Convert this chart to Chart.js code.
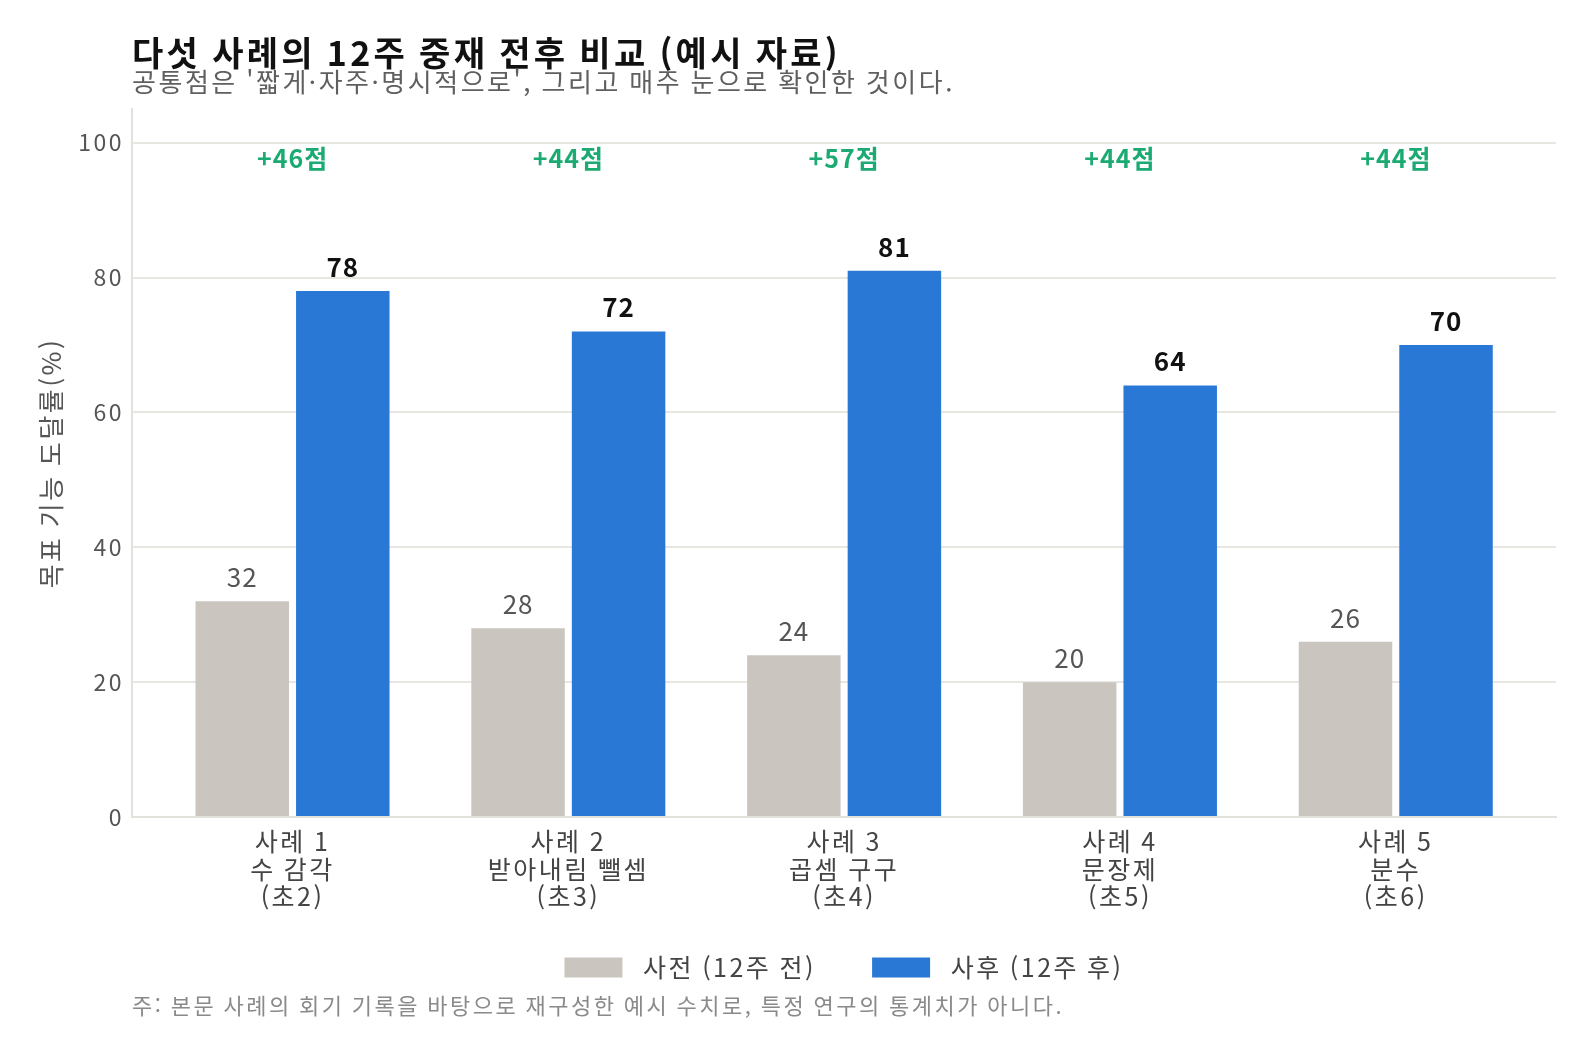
<!DOCTYPE html>
<html lang="ko">
<head>
  <meta charset="UTF-8">
  <title>다섯 사례의 12주 중재 전후 비교</title>
  <script src="https://cdn.jsdelivr.net/npm/chart.js"></script>
  <style>
    body {
      margin: 0;
      background: #ffffff;
    }
    canvas {
      display: block;
    }
  </style>
</head>
<body>
  <canvas id="chart" width="1593" height="1055"></canvas>

  <script>
    const FONT = '"Noto Sans CJK KR", "Noto Sans", sans-serif';

    const categories = [
      ['사례 1', '수 감각', '(초2)'],
      ['사례 2', '받아내림 뺄셈', '(초3)'],
      ['사례 3', '곱셈 구구', '(초4)'],
      ['사례 4', '문장제', '(초5)'],
      ['사례 5', '분수', '(초6)']
    ];
    const preScores = [32, 28, 24, 20, 26];
    const postScores = [78, 72, 81, 64, 70];
    const yTicks = [0, 20, 40, 60, 80, 100];

    const titleText = '다섯 사례의 12주 중재 전후 비교 (예시 자료)';
    const subtitleText = "공통점은 '짧게·자주·명시적으로', 그리고 매주 눈으로 확인한 것이다.";
    const noteText = '주: 본문 사례의 회기 기록을 바탕으로 재구성한 예시 수치로, 특정 연구의 통계치가 아니다.';

    // 글자 간격을 조절해서 정해진 폭에 맞춰 쓰기
    function drawFitted(ctx, text, x, y, font, color, width) {
      ctx.font = font;
      ctx.letterSpacing = '0px';
      const w = ctx.measureText(text).width;
      const n = Array.from(text).length;
      ctx.letterSpacing = ((width - w) / n) + 'px';
      ctx.fillStyle = color;
      ctx.fillText(text, x, y);
    }

    const spacingPlugin = {
      id: 'spacing',
      beforeUpdate(chart) {
        chart.ctx.letterSpacing = '2.5px';
      },
      beforeDraw(chart) {
        chart.ctx.letterSpacing = '2.5px';
      }
    };

    const textPlugin = {
      id: 'textPlugin',
      afterDraw(chart) {
        const ctx = chart.ctx;
        const area = chart.chartArea;
        ctx.save();
        ctx.textAlign = 'left';
        ctx.textBaseline = 'middle';
        drawFitted(ctx, titleText, area.left, 53, 'bold 34px ' + FONT, '#111111', 709);
        drawFitted(ctx, subtitleText, area.left, 82, '26px ' + FONT, '#5f5f5f', 823);
        drawFitted(ctx, noteText, area.left, 1006, '22px ' + FONT, '#8a8a8a', 932);
        ctx.restore();
      },
      afterDatasetsDraw(chart) {
        const ctx = chart.ctx;
        const yScale = chart.scales.y;
        const xScale = chart.scales.x;
        ctx.save();
        ctx.textAlign = 'center';
        ctx.textBaseline = 'bottom';
        ctx.letterSpacing = '1px';

        chart.getDatasetMeta(0).data.forEach((bar, i) => {
          ctx.fillStyle = '#555555';
          ctx.font = '26px ' + FONT;
          ctx.fillText(String(preScores[i]), bar.x, bar.y - 11);
        });
        chart.getDatasetMeta(1).data.forEach((bar, i) => {
          ctx.fillStyle = '#111111';
          ctx.font = 'bold 26px ' + FONT;
          ctx.fillText(String(postScores[i]), bar.x, bar.y - 11);
        });

        // 향상 폭
        ctx.textBaseline = 'middle';
        ctx.fillStyle = '#1bab72';
        ctx.font = 'bold 25px ' + FONT;
        categories.forEach((c, i) => {
          const diff = postScores[i] - preScores[i];
          ctx.fillText('+' + diff + '점', xScale.getPixelForValue(i), yScale.getPixelForValue(97.6));
        });
        ctx.restore();
      }
    };

    new Chart(document.getElementById('chart').getContext('2d'), {
      type: 'bar',
      data: {
        datasets: [
          {
            label: '사전 (12주 전)',
            data: preScores.map((v, i) => ({ x: i, y: v })),
            backgroundColor: '#cac6bf',
            categoryPercentage: 0.729,
            barPercentage: 0.93
          },
          {
            label: '사후 (12주 후)',
            data: postScores.map((v, i) => ({ x: i, y: v })),
            backgroundColor: '#2a78d6',
            categoryPercentage: 0.729,
            barPercentage: 0.93
          }
        ]
      },
      options: {
        responsive: false,
        animation: false,
        layout: {
          padding: { top: 109, left: 36, right: 37, bottom: 65 }
        },
        scales: {
          x: {
            type: 'linear',
            offset: false,
            min: -0.582,
            max: 4.581,
            afterBuildTicks(scale) {
              scale.ticks = categories.map((c, i) => ({ value: i }));
            },
            afterFit(scale) {
              scale.height = 98;
            },
            grid: { display: false, drawTicks: false, offset: false },
            border: { color: '#e3e1dc', width: 2 },
            ticks: {
              color: '#444444',
              font: { family: FONT, size: 25, lineHeight: 1.1 },
              padding: 11,
              maxRotation: 0,
              autoSkip: false,
              callback: (value) => categories[value]
            }
          },
          y: {
            min: 0,
            max: 105,
            afterBuildTicks(scale) {
              scale.ticks = yTicks.map(v => ({ value: v }));
            },
            afterFit(scale) {
              scale.width = 96;
            },
            grid: { color: '#e8e6e1', lineWidth: 2, drawTicks: false },
            border: { color: '#e3e1dc', width: 2 },
            ticks: {
              color: '#555555',
              font: { family: FONT, size: 23 },
              padding: 8
            },
            title: {
              display: true,
              text: '목표 기능 도달률(%)',
              color: '#555555',
              font: { family: FONT, size: 26 },
              padding: 0
            }
          }
        },
        plugins: {
          legend: {
            position: 'bottom',
            fullSize: false,
            labels: {
              color: '#444444',
              font: { family: FONT, size: 25 },
              boxWidth: 58,
              boxHeight: 20,
              padding: 40,
              generateLabels(chart) {
                return Chart.defaults.plugins.legend.labels.generateLabels(chart)
                  .map((item, i) => Object.assign(item, {
                    text: ' ' + item.text + (i === 0 ? '  ' : '')
                  }));
              }
            }
          },
          tooltip: { enabled: false }
        }
      },
      plugins: [spacingPlugin, textPlugin]
    });
  </script>
</body>
</html>
